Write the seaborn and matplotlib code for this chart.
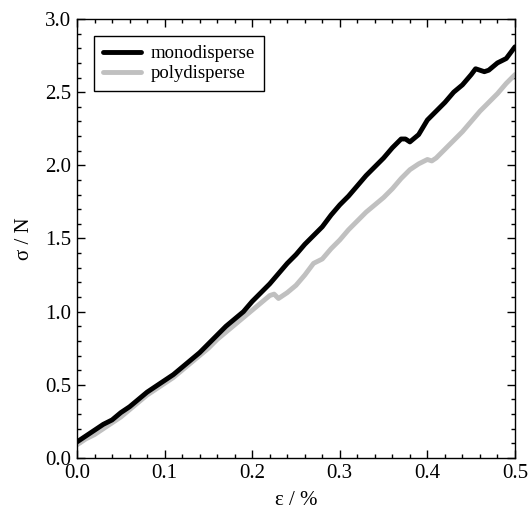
import numpy as np
import pandas as pd
import seaborn as sns
import matplotlib
matplotlib.use("Agg")
import matplotlib.pyplot as plt
from matplotlib.ticker import MultipleLocator

# strain (%) / stress (N)
mono_strain = [0.0, 0.01, 0.02, 0.03, 0.04, 0.05, 0.06, 0.07, 0.08, 0.09,
               0.10, 0.11, 0.12, 0.13, 0.14, 0.15, 0.16, 0.17, 0.18, 0.19,
               0.20, 0.21, 0.22, 0.23, 0.24, 0.25, 0.26, 0.27, 0.28, 0.29,
               0.30, 0.31, 0.32, 0.33, 0.34, 0.35, 0.36, 0.37, 0.375, 0.38,
               0.39, 0.40, 0.41, 0.42, 0.43, 0.44, 0.45, 0.455, 0.46, 0.465,
               0.47, 0.48, 0.49, 0.50]
mono_stress = [0.11, 0.15, 0.19, 0.23, 0.26, 0.31, 0.35, 0.40, 0.45, 0.49,
               0.53, 0.57, 0.62, 0.67, 0.72, 0.78, 0.84, 0.90, 0.95, 1.00,
               1.07, 1.13, 1.19, 1.26, 1.33, 1.39, 1.46, 1.52, 1.58, 1.66,
               1.73, 1.79, 1.86, 1.93, 1.99, 2.05, 2.12, 2.18, 2.18, 2.16,
               2.21, 2.31, 2.37, 2.43, 2.50, 2.55, 2.62, 2.66, 2.65, 2.64,
               2.65, 2.70, 2.73, 2.81]

poly_strain = [0.0, 0.01, 0.02, 0.03, 0.04, 0.05, 0.06, 0.07, 0.08, 0.09,
               0.10, 0.11, 0.12, 0.13, 0.14, 0.15, 0.16, 0.17, 0.18, 0.19,
               0.20, 0.21, 0.22, 0.225, 0.23, 0.24, 0.25, 0.26, 0.27, 0.28,
               0.29, 0.30, 0.31, 0.32, 0.33, 0.34, 0.35, 0.36, 0.37, 0.38,
               0.39, 0.40, 0.405, 0.41, 0.42, 0.43, 0.44, 0.45, 0.46, 0.47,
               0.48, 0.49, 0.50]
poly_stress = [0.09, 0.13, 0.16, 0.20, 0.24, 0.28, 0.33, 0.38, 0.43, 0.47,
               0.51, 0.55, 0.60, 0.65, 0.70, 0.75, 0.81, 0.86, 0.91, 0.96,
               1.01, 1.06, 1.11, 1.12, 1.09, 1.13, 1.18, 1.25, 1.33, 1.36,
               1.43, 1.49, 1.56, 1.62, 1.68, 1.73, 1.78, 1.84, 1.91, 1.97,
               2.01, 2.04, 2.03, 2.05, 2.11, 2.17, 2.23, 2.30, 2.37, 2.43,
               2.49, 2.56, 2.62]

sns.set_theme(style="ticks", rc={'text.color': 'black', 'axes.labelcolor': 'black',
                                 'xtick.color': 'black', 'ytick.color': 'black'})
plt.rcParams['font.family'] = ['Liberation Serif', 'DejaVu Serif']

mono = pd.DataFrame({'strain': mono_strain, 'stress': mono_stress})
poly = pd.DataFrame({'strain': poly_strain, 'stress': poly_stress})

fig = plt.figure(figsize=(5.3, 5.15), dpi=100)
ax = fig.add_axes([0.1453, 0.1107, 0.8264, 0.8524])

sns.lineplot(data=mono, x='strain', y='stress', color='black', lw=3.5,
             label='monodisperse', ax=ax, zorder=3)
sns.lineplot(data=poly, x='strain', y='stress', color='#c0c0c0', lw=3.5,
             label='polydisperse', ax=ax, zorder=2)

ax.set_xlim(0, 0.5)
ax.set_ylim(0, 3.0)
ax.xaxis.set_major_locator(MultipleLocator(0.1))
ax.xaxis.set_minor_locator(MultipleLocator(0.02))
ax.yaxis.set_major_locator(MultipleLocator(0.5))
ax.yaxis.set_minor_locator(MultipleLocator(0.1))
ax.tick_params(which='both', direction='in', top=True, right=True,
               color='black', width=1)
ax.tick_params(which='major', length=6, labelsize=15, pad=4)
ax.tick_params(which='minor', length=3)
for s in ax.spines.values():
    s.set_color('black')
    s.set_linewidth(1)

ax.set_xlabel('ε / %', fontsize=15, labelpad=6)
ax.set_ylabel('σ / N', fontsize=15, labelpad=8)

leg = ax.legend(loc='upper left', bbox_to_anchor=(0.039, 0.962), borderaxespad=0,
                fontsize=13.5, fancybox=False, framealpha=1, edgecolor='black',
                handlelength=2.0, handletextpad=0.5, borderpad=0.5,
                labelspacing=0.15)
leg.get_frame().set_linewidth(1)

fig.savefig('out.png', dpi=100)
